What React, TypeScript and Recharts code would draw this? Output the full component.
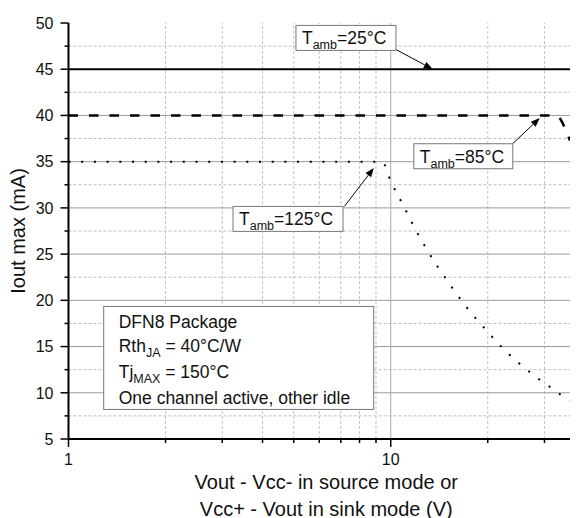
import {
  Line,
  LineChart,
  ReferenceDot,
  ReferenceLine,
  XAxis,
  YAxis,
} from "recharts";

const FONT = '"Liberation Sans", Arial, sans-serif';

const xTicks = [1, 2, 3, 4, 5, 6, 7, 8, 9, 10, 20, 30];
const xLabelled = [1, 10];
const yTicks = [5, 7.5, 10, 12.5, 15, 17.5, 20, 22.5, 25, 27.5, 30, 32.5, 35, 37.5, 40, 42.5, 45, 47.5, 50];
const yMajorGrid = [10, 15, 20, 25, 30, 35, 40];
const yMinorGrid = [7.5, 12.5, 17.5, 22.5, 27.5, 32.5, 37.5, 42.5, 47.5];
const xMajorGrid = [10];
const xMinorGrid = [2, 3, 4, 5, 6, 7, 8, 9, 20, 30];

// Vout (V) / Iout max (mA) per ambient temperature
const vout25 = [1, 36];
const iout25 = [45, 45];
const vout85 = [1, 32, 33, 34, 35, 36];
const iout85 = [40, 40, 39.9, 39.3, 38.3, 37.3];
const vout125 = [1, 9.4, 10, 11, 12, 13, 14, 15, 16, 18, 20, 22, 25, 28, 31, 34, 36];
const iout125 = [35, 35, 32.9, 30.1, 27.5, 25.4, 23.6, 22.1, 20.7, 18.4, 16.6, 15.0, 13.2, 11.8, 10.7, 9.7, 9.2];

const zip = (xs: number[], ys: number[]) => xs.map((x, i) => ({ x, y: ys[i] }));

function YTick({ x, y, payload }: any) {
  const v = payload.value as number;
  const major = v % 5 === 0;
  return (
    <g>
      <line x1={x} x2={x - (major ? 8 : 4)} y1={y} y2={y} stroke="#000" strokeWidth={1.5} />
      {major && (
        <text x={x - 15} y={y} dy="0.36em" textAnchor="end" fontSize={16} fontFamily={FONT} fill="#111">
          {v}
        </text>
      )}
    </g>
  );
}

function XTick({ x, y, payload }: any) {
  const v = payload.value as number;
  const major = xLabelled.includes(v);
  return (
    <g>
      <line x1={x} x2={x} y1={y} y2={y + (major ? 8 : 4)} stroke="#000" strokeWidth={1.5} />
      {major && (
        <text x={x} y={y + 15} dy="0.71em" textAnchor="middle" fontSize={16} fontFamily={FONT} fill="#111">
          {v}
        </text>
      )}
    </g>
  );
}

function Arrow({ x1, y1, x2, y2 }: any) {
  const dx = x2 - x1;
  const dy = y2 - y1;
  const len = Math.sqrt(dx * dx + dy * dy) || 1;
  const ux = dx / len;
  const uy = dy / len;
  const hl = 9;
  const hw = 3.5;
  const bx = x2 - ux * hl;
  const by = y2 - uy * hl;
  return (
    <g>
      <line x1={x1} y1={y1} x2={bx} y2={by} stroke="#000" strokeWidth={1} />
      <polygon
        points={`${x2},${y2} ${bx - uy * hw},${by + ux * hw} ${bx + uy * hw},${by - ux * hw}`}
        fill="#000"
      />
    </g>
  );
}

function TempBox({ cx, cy, w, temp }: any) {
  return (
    <g>
      <rect x={cx} y={cy} width={w} height={25} fill="#fff" stroke="#777" strokeWidth={1} />
      <text x={cx + 6} y={cy + 19} fontSize={17.5} fontFamily={FONT} fill="#111">
        T
        <tspan fontSize={12.5} dy={5}>amb</tspan>
        <tspan dy={-5}>={temp}°C</tspan>
      </text>
    </g>
  );
}

function InfoBox({ cx, cy }: any) {
  const tx = cx + 15;
  return (
    <g fontFamily={FONT} fill="#111" fontSize={17.5}>
      <rect x={cx} y={cy} width={270} height={103} fill="#fff" stroke="#777" strokeWidth={1} />
      <text x={tx} y={cy + 22}>DFN8 Package</text>
      <text x={tx} y={cy + 46}>
        Rth<tspan fontSize={12.5} dy={5}>JA</tspan>
        <tspan dy={-5}> = 40°C/W</tspan>
      </text>
      <text x={tx} y={cy + 72}>
        Tj<tspan fontSize={12.5} dy={5}>MAX</tspan>
        <tspan dy={-5}> = 150°C</tspan>
      </text>
      <text x={tx} y={cy + 98}>One channel active, other idle</text>
    </g>
  );
}

export default function App() {
  return (
    <div>
      <style>{"body{margin:0;background:#fff}"}</style>
      <LineChart
        width={576}
        height={518}
        margin={{ top: 23, right: 6, bottom: 49, left: 8.5 }}
      >
        <XAxis
          dataKey="x"
          type="number"
          scale="log"
          domain={[1, 36]}
          allowDataOverflow
          ticks={xTicks}
          interval={0}
          tickSize={0}
          tickMargin={0}
          tickLine={false}
          height={30}
          axisLine={{ stroke: "#000", strokeWidth: 2 }}
          tick={<XTick />}
          label={{
            content: ({ viewBox }: any) => {
              const cx = viewBox.x + viewBox.width / 2 + 7;
              return (
                <text textAnchor="middle" fontSize={20} fontFamily={FONT} fill="#111">
                  <tspan x={cx} y={489}>Vout - Vcc- in source mode or</tspan>
                  <tspan x={cx} y={515.5}>Vcc+ - Vout in sink mode (V)</tspan>
                </text>
              );
            },
          }}
        />
        <YAxis
          type="number"
          domain={[5, 50]}
          ticks={yTicks}
          interval={0}
          width={60}
          tickSize={0}
          tickMargin={0}
          tickLine={false}
          axisLine={{ stroke: "#000", strokeWidth: 2 }}
          tick={<YTick />}
          label={{
            content: ({ viewBox }: any) => {
              const cy = viewBox.y + viewBox.height / 2;
              return (
                <text
                  x={25}
                  y={cy}
                  transform={`rotate(-90 25 ${cy})`}
                  textAnchor="middle"
                  fontSize={20}
                  fontFamily={FONT}
                  fill="#111"
                >
                  Iout max (mA)
                </text>
              );
            },
          }}
        />
        {yMinorGrid.map((v) => (
          <ReferenceLine key={`ym${v}`} y={v} stroke="#bcbcbc" strokeDasharray="3 2" />
        ))}
        {xMinorGrid.map((v) => (
          <ReferenceLine key={`xm${v}`} x={v} stroke="#c4c4c4" strokeDasharray="3 2" />
        ))}
        {yMajorGrid.map((v) => (
          <ReferenceLine key={`yM${v}`} y={v} stroke="#9a9a9a" />
        ))}
        {xMajorGrid.map((v) => (
          <ReferenceLine key={`xM${v}`} x={v} stroke="#a8a8a8" />
        ))}
        <Line
          data={zip(vout25, iout25)}
          dataKey="y"
          type="linear"
          stroke="#000"
          strokeWidth={2}
          dot={false}
          activeDot={false}
          isAnimationActive={false}
        />
        <Line
          data={zip(vout85, iout85)}
          dataKey="y"
          type="monotone"
          stroke="#000"
          strokeWidth={2.5}
          strokeDasharray="9.5 11"
          dot={false}
          activeDot={false}
          isAnimationActive={false}
        />
        <Line
          data={zip(vout125, iout125)}
          dataKey="y"
          type="monotone"
          stroke="#000"
          strokeWidth={2}
          strokeDasharray="2 10.7"
          dot={false}
          activeDot={false}
          isAnimationActive={false}
        />
        <ReferenceLine
          segment={[{ x: 10.42, y: 47.1 }, { x: 13.5, y: 45 }]}
          shape={(p: any) => <Arrow {...p} />}
        />
        <ReferenceLine
          segment={[{ x: 23.9, y: 36.94 }, { x: 29.0, y: 39.72 }]}
          shape={(p: any) => <Arrow {...p} />}
        />
        <ReferenceLine
          segment={[{ x: 7.18, y: 30.16 }, { x: 8.86, y: 34.31 }]}
          shape={(p: any) => <Arrow {...p} />}
        />
        <ReferenceDot x={5.08} y={49.74} r={0} shape={(p: any) => <TempBox {...p} w={100} temp={25} />} />
        <ReferenceDot x={11.79} y={36.94} r={0} shape={(p: any) => <TempBox {...p} w={99} temp={85} />} />
        <ReferenceDot x={3.24} y={30.16} r={0} shape={(p: any) => <TempBox {...p} w={110} temp={125} />} />
        <ReferenceDot x={1.286} y={19.34} r={0} shape={(p: any) => <InfoBox {...p} />} />
      </LineChart>
    </div>
  );
}
